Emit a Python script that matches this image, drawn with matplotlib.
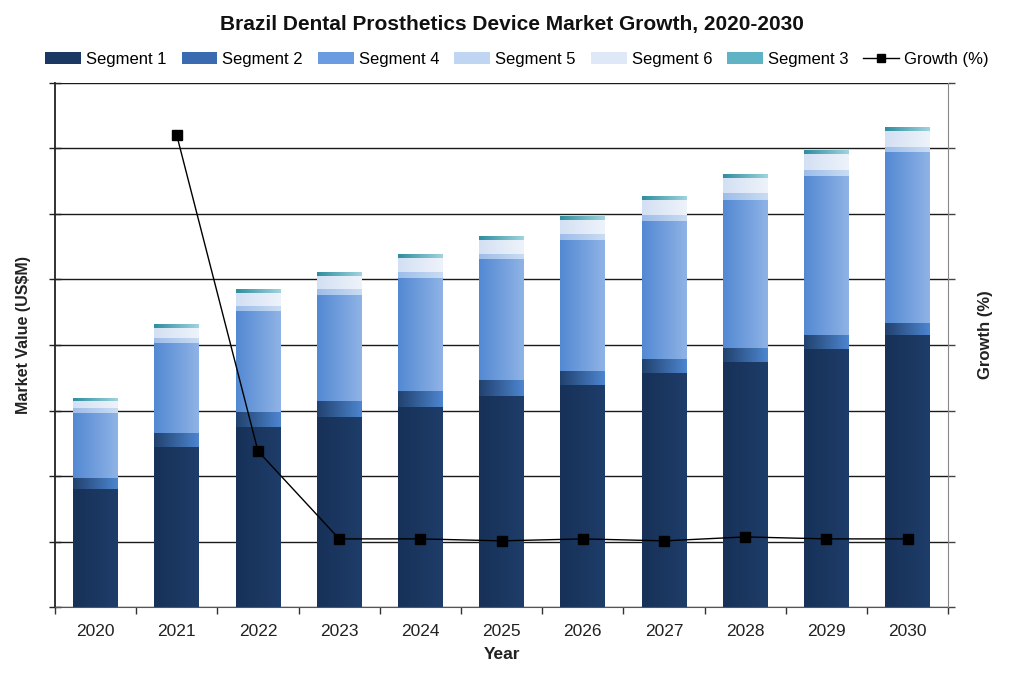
import numpy as np
import matplotlib
matplotlib.use("Agg")
import matplotlib.pyplot as plt
from matplotlib.colors import LinearSegmentedColormap
from matplotlib.patches import Patch
from matplotlib.lines import Line2D

plt.rcParams['font.family'] = ['Liberation Sans', 'DejaVu Sans']

years = ['2020', '2021', '2022', '2023', '2024', '2025', '2026', '2027', '2028', '2029', '2030']
segment_1 = [90.1, 122.1, 137.4, 145.0, 152.7, 161.1, 169.5, 178.6, 187.0, 197.0, 207.6]
segment_2 = [8.4, 10.7, 11.5, 12.3, 12.2, 12.2, 10.7, 10.7, 10.7, 10.6, 9.2]
segment_4 = [49.6, 68.7, 77.1, 80.9, 86.3, 92.4, 100.0, 105.4, 113.0, 121.4, 130.5]
segment_5 = [3.8, 3.9, 3.8, 4.6, 4.5, 3.8, 4.6, 4.6, 5.3, 4.6, 3.9]
segment_6 = [5.6, 7.9, 9.7, 9.6, 10.5, 10.6, 10.4, 11.2, 11.3, 12.0, 12.4]
segment_3 = [2.1, 2.5, 2.5, 2.5, 2.5, 2.3, 2.5, 2.5, 2.5, 2.3, 2.3]
growth = [np.nan, 36.0, 11.9, 5.2, 5.2, 5.05, 5.2, 5.05, 5.35, 5.2, 5.2]

series = [
    ('Segment 1', segment_1, ('#173158', '#1e3d69')),
    ('Segment 2', segment_2, ('#21426f', '#4d85cf')),
    ('Segment 4', segment_4, ('#5389d3', '#8fb3e6')),
    ('Segment 5', segment_5, ('#9dbde9', '#cadcf3')),
    ('Segment 6', segment_6, ('#d3e0f3', '#eef3fa')),
    ('Segment 3', segment_3, ('#2f8e9f', '#9fd4de')),
]

fig = plt.figure(figsize=(10.24, 6.78), dpi=100)
ax = fig.add_axes([0.0537, 0.1047, 0.8723, 0.7729])
ax2 = ax.twinx()

x = np.arange(len(years))
width = 0.55
bottom = np.zeros(len(years))
grad = np.linspace(0, 1, 64).reshape(1, -1)
for name, vals, (c0, c1) in series:
    vals = np.array(vals)
    cmap = LinearSegmentedColormap.from_list(name, [c0, c1])
    bars = ax.bar(x, vals, width, bottom=bottom, color=c0, edgecolor='none', zorder=2)
    for b in bars:
        x0, y0 = b.get_x(), b.get_y()
        ax.imshow(grad, cmap=cmap, extent=[x0, x0 + b.get_width(), y0, y0 + b.get_height()],
                  aspect='auto', zorder=2.1, interpolation='bilinear')
    bottom += vals

ax.set_xlim(-0.5, len(years) - 0.5)
ax.set_ylim(0, 400)
ax.set_yticks(np.arange(0, 401, 50))
ax.set_yticklabels([])
ax.yaxis.grid(True, color='#1a1a1a', linewidth=1.0, zorder=0)
ax.set_axisbelow(True)
ax.set_xticks(x)
ax.set_xticklabels(years, fontsize=12.5, color='#222222')
ax.set_xticks(np.arange(-0.5, len(years), 1), minor=True)
ax.tick_params(axis='x', which='major', length=0, pad=12)
ax.tick_params(axis='x', which='minor', length=5, width=1, direction='out', color='#333333')
ax.tick_params(axis='y', which='major', length=9, width=1, direction='inout', color='#222222')
ax.spines['top'].set_visible(False)
ax.spines['right'].set_visible(False)
ax.spines['left'].set_color('#222222')
ax.spines['left'].set_linewidth(1.3)
ax.spines['bottom'].set_color('#555555')
ax.set_xlabel('Year', fontsize=12.5, fontweight='bold', labelpad=6, color='#222222')
ax.set_ylabel('Market Value (US$M)', fontsize=11.5, fontweight='bold', color='#222222')
ax.yaxis.set_label_coords(-0.027, 0.52)

ax2.plot(x, growth, color='black', linewidth=1.0, marker='s', markersize=7, zorder=5)
ax2.set_ylim(0, 40)
ax2.set_yticks(np.arange(0, 41, 5))
ax2.set_yticklabels([])
ax2.tick_params(axis='y', length=5, width=1, direction='out', color='#444444')
ax2.spines['top'].set_visible(False)
ax2.spines['left'].set_visible(False)
ax2.spines['bottom'].set_visible(False)
ax2.spines['right'].set_color('#888888')
ax2.set_ylabel('Growth (%)', fontsize=12, fontweight='bold', color='#222222')
ax2.yaxis.set_label_coords(1.033, 0.52)
ax.set_zorder(1)
ax2.set_zorder(2)
ax2.patch.set_visible(False)

fig.suptitle('Brazil Dental Prosthetics Device Market Growth, 2020-2030', x=0.5, y=0.978,
             fontsize=15, fontweight='bold', color='#111111')

handles = [Patch(facecolor=col, label=n) for (n, v, c), col in
           zip(series, ['#1b3864', '#3a6ab0', '#6b9be0', '#c0d5f1', '#dfe8f6', '#5fb3c4'])]
handles.append(Line2D([0], [0], color='black', marker='s', markersize=6, linewidth=1.0, label='Growth (%)'))
fig.legend(handles=handles, loc='center', bbox_to_anchor=(0.505, 0.912), ncol=7, frameon=False,
           fontsize=12, handlelength=2.15, handleheight=0.75, columnspacing=0.9, handletextpad=0.3)

fig.savefig('out.png', dpi=100)
